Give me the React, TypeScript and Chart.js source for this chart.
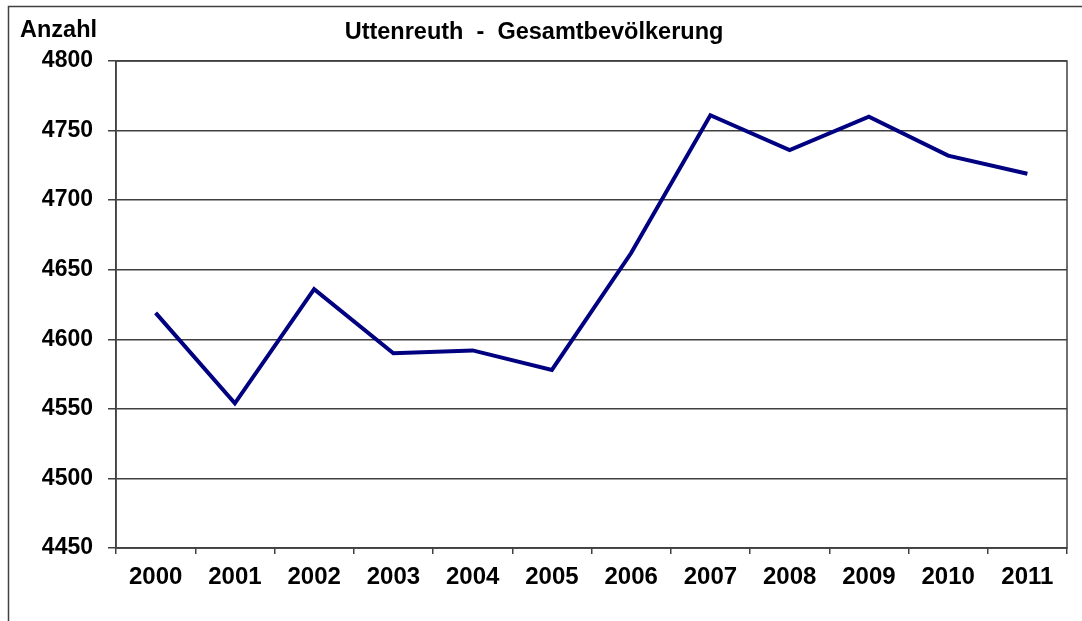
import React, { useEffect, useRef } from "react";
import { Chart, registerables } from "chart.js";

Chart.register(...registerables);

const years = ["2000", "2001", "2002", "2003", "2004", "2005", "2006", "2007", "2008", "2009", "2010", "2011"];
const population = [4619, 4554, 4636, 4590, 4592, 4578, 4662, 4761, 4736, 4760, 4732, 4719];
const titleText = "Uttenreuth  -  Gesamtbevölkerung";
const yAxisTitle = "Anzahl";
const yMin = 4450;
const yMax = 4800;
const yStep = 50;

const FONT = "'Liberation Sans', Arial, sans-serif";

const decorPlugin = {
  id: "decor",
  beforeDraw(chart: any) {
    const ctx = chart.ctx;
    ctx.save();
    ctx.fillStyle = "#ffffff";
    ctx.fillRect(0, 0, chart.width, chart.height);
    ctx.strokeStyle = "#404040";
    ctx.lineWidth = 1.5;
    ctx.strokeRect(8.5, 6.5, 1300, 1000);
    ctx.restore();
  },
  afterDraw(chart: any) {
    const ctx = chart.ctx;
    const a = chart.chartArea;
    ctx.save();
    ctx.strokeStyle = "#404040";
    ctx.lineWidth = 1.5;
    ctx.strokeRect(a.left, a.top, a.right - a.left, a.bottom - a.top);
    ctx.fillStyle = "#000000";
    ctx.font = "bold 23.5px " + FONT;
    ctx.textBaseline = "alphabetic";
    ctx.textAlign = "center";
    ctx.fillText(titleText, 534, 39);
    ctx.textAlign = "left";
    ctx.font = "bold 23.5px " + FONT;
    ctx.fillText(yAxisTitle, 20, 37);
    ctx.restore();
  },
};

export default function App() {
  const ref = useRef<HTMLCanvasElement>(null);
  useEffect(() => {
    if (!ref.current) return;
    const chart = new Chart(ref.current, {
      type: "line",
      data: {
        labels: years,
        datasets: [
          {
            data: population,
            borderColor: "#000080",
            borderWidth: 4,
            pointRadius: 0,
            tension: 0,
            fill: false,
          },
        ],
      },
      plugins: [decorPlugin],
      options: {
        responsive: false,
        animation: false,
        layout: { padding: { left: 0, top: 61, right: 15, bottom: 0 } },
        plugins: { legend: { display: false }, title: { display: false }, tooltip: { enabled: false } },
        scales: {
          x: {
            type: "category",
            offset: true,
            afterFit(scale: any) {
              scale.height = 73;
            },
            grid: {
              offset: true,
              drawOnChartArea: false,
              drawTicks: true,
              tickLength: 6,
              color: "#404040",
              lineWidth: 1.5,
            },
            border: { display: true, color: "#404040", width: 1.5 },
            ticks: {
              color: "#000000",
              font: { family: FONT, size: 24, weight: "bold" },
              padding: 9,
              maxRotation: 0,
              autoSkip: false,
            },
          },
          y: {
            min: yMin,
            max: yMax,
            afterFit(scale: any) {
              scale.width = 116;
            },
            grid: {
              drawOnChartArea: true,
              drawTicks: true,
              tickLength: 8,
              color: "#404040",
              lineWidth: 1.5,
            },
            border: { display: true, color: "#404040", width: 1.5 },
            ticks: {
              stepSize: yStep,
              color: "#000000",
              font: { family: FONT, size: 23, weight: "bold" },
              padding: 15,
              callback: (v: any) => String(v),
            },
          },
        },
      },
    });
    return () => chart.destroy();
  }, []);
  return (
    <div style={{ position: "absolute", left: 0, top: 0, width: 1082, height: 621, background: "#fff" }}>
      <canvas ref={ref} width={1082} height={621} style={{ display: "block" }} />
    </div>
  );
}
